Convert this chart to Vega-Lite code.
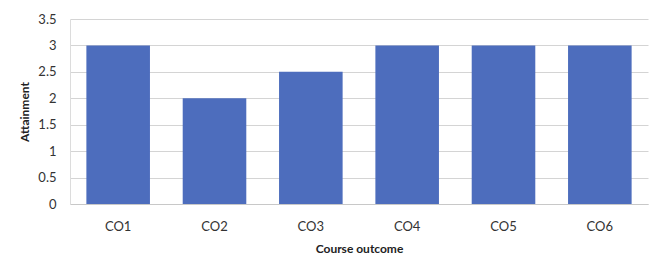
{
  "$schema": "https://vega.github.io/schema/vega-lite/v6.json",
  "width": 578,
  "height": 185,
  "autosize": {"type": "none"},
  "padding": {"left": 70, "top": 19, "right": 5, "bottom": 55},
  "background": "white",
  "config": {"view": {"stroke": null}, "font": "Lato"},
  "data": {"values": [
    {"co": "CO1", "value": 3},
    {"co": "CO2", "value": 2},
    {"co": "CO3", "value": 2.5},
    {"co": "CO4", "value": 3},
    {"co": "CO5", "value": 3},
    {"co": "CO6", "value": 3}
  ]},
  "mark": {"type": "bar", "color": "#4d6dbd"},
  "encoding": {
    "x": {
      "field": "co", "type": "nominal", "sort": null,
      "scale": {"paddingInner": 0.34, "paddingOuter": 0.17},
      "axis": {
        "title": "Course outcome", "titleFontSize": 12, "titleFontWeight": "bold", "titleColor": "#222",
        "titlePadding": 10,
        "labelAngle": 0, "labelFontSize": 13, "labelColor": "#333", "labelPadding": 16,
        "ticks": false, "domainColor": "#c8c8c8", "grid": false
      }
    },
    "y": {
      "field": "value", "type": "quantitative",
      "scale": {"domain": [0, 3.5], "nice": false},
      "axis": {
        "title": "Attainment", "titleFontSize": 12, "titleFontWeight": "bold", "titleColor": "#222",
        "titlePadding": 6,
        "values": [0, 0.5, 1, 1.5, 2, 2.5, 3, 3.5],
        "labelExpr": "datum.value",
        "labelFontSize": 13, "labelColor": "#333", "labelPadding": 14,
        "ticks": false, "domain": true, "domainColor": "#dcdcdc",
        "gridColor": "#d4d4d4"
      }
    }
  }
}
